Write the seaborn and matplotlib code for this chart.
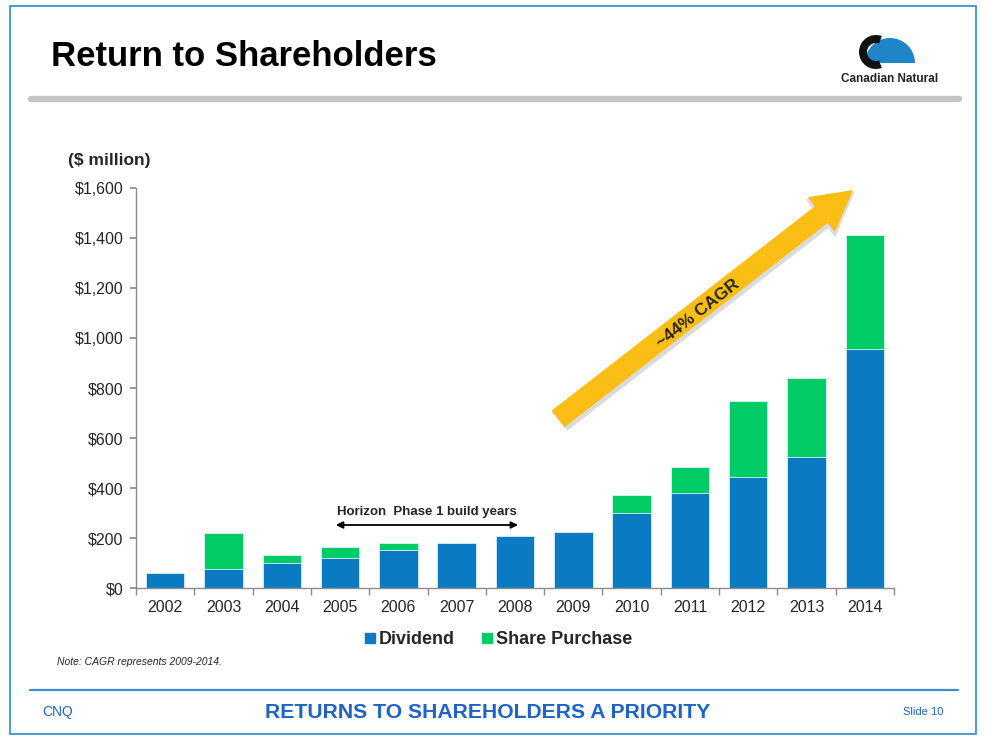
import numpy as np
import pandas as pd
import matplotlib
matplotlib.use('Agg')
import matplotlib.pyplot as plt
import seaborn as sns
from matplotlib.patches import Rectangle, FancyArrow, Wedge
from matplotlib.lines import Line2D

# values ($ million)
years = ['2002', '2003', '2004', '2005', '2006', '2007', '2008',
         '2009', '2010', '2011', '2012', '2013', '2014']
dividend = [60, 76, 102, 122, 154, 180, 208, 224, 301, 379, 445, 523, 956]
share_purchase = [0, 146, 32, 44, 28, 0, 0, 0, 70, 104, 304, 318, 455]
yticks = [0, 200, 400, 600, 800, 1000, 1200, 1400, 1600]

blue = '#0A7BC2'
green = '#00CC66'
footer_blue = '#1C64C8'

df = pd.DataFrame({'year': years, 'dividend': dividend, 'share': share_purchase})
df['total'] = df['dividend'] + df['share']

sns.set_theme(style='white')
plt.rcParams['font.family'] = ['Liberation Sans', 'DejaVu Sans']

fig = plt.figure(figsize=(9.87, 7.4), dpi=100)
ax = fig.add_axes([136 / 987, 1 - 588 / 740, (894 - 136) / 987, 400 / 740])

sns.barplot(data=df, x='year', y='total', color=green, width=0.66,
            saturation=1, edgecolor='#DDEFFA', linewidth=0.6, ax=ax)
sns.barplot(data=df, x='year', y='dividend', color=blue, width=0.66,
            saturation=1, edgecolor='#DDEFFA', linewidth=0.6, ax=ax)

ax.set_xlim(-0.5, 12.5)
ax.set_ylim(0, 1600)
ax.set_yticks(yticks)
ax.set_yticklabels(['${:,}'.format(v) for v in yticks], fontsize=11.5)
ax.set_xlabel('')
ax.set_ylabel('')
for s in ['top', 'right']:
    ax.spines[s].set_visible(False)
for s in ['left', 'bottom']:
    ax.spines[s].set_color('#8C8C8C')
    ax.spines[s].set_linewidth(1.0)
ax.set_xticks(np.arange(13))
ax.set_xticklabels(years, fontsize=11.5)
ax.set_xticks(np.arange(-0.5, 13, 1), minor=True)
ax.tick_params(axis='x', which='major', length=0, pad=9)
ax.tick_params(axis='x', which='minor', length=5, color='#8C8C8C', direction='out', bottom=True)
ax.tick_params(axis='y', length=4, color='#8C8C8C', direction='out', left=True, pad=5)

# Horizon build-years annotation
ax.annotate('', xy=(2.88, 252), xytext=(6.1, 252),
            arrowprops=dict(arrowstyle='<|-|>', color='black', lw=1.3,
                            mutation_scale=10))
ax.text(4.49, 302, 'Horizon  Phase 1 build years', ha='center', va='center',
        fontsize=9.5, fontweight='bold')

# CAGR arrow (drawn in inches so it keeps its shape)
tr = fig.dpi_scale_trans
x0, y0, x1, y1 = 5.58, 3.21, 8.53, 5.50
shadow = FancyArrow(x0 + 0.015, y0 - 0.02, x1 - x0, y1 - y0, width=0.25,
                    head_width=0.48, head_length=0.43, length_includes_head=True,
                    transform=tr, color='#9A9A9A', alpha=0.35, lw=0)
arrow = FancyArrow(x0, y0, x1 - x0, y1 - y0, width=0.21, head_width=0.44,
                   head_length=0.40, length_includes_head=True,
                   transform=tr, color='#FBBE14', lw=0)
fig.add_artist(shadow)
fig.add_artist(arrow)
fig.text(698 / 987, 1 - 313 / 740, '~44% CAGR', rotation=38, ha='center', va='center',
         rotation_mode='anchor', fontsize=12.5, fontweight='bold')

# axis unit label
fig.text(68 / 987, 1 - 160 / 740, '($ million)', ha='left', va='center',
         fontsize=12.5, fontweight='bold')

# legend
handles = [Line2D([], [], marker='s', linestyle='', color=blue, markersize=7.5),
           Line2D([], [], marker='s', linestyle='', color=green, markersize=7.5)]
fig.legend(handles, ['Dividend', 'Share Purchase'], loc='center',
           bbox_to_anchor=(497 / 987, 1 - 640 / 740), ncol=2, frameon=False,
           prop={'size': 13, 'weight': 'bold'}, handletextpad=0.05,
           columnspacing=1.3, handlelength=0.9)

fig.text(57 / 987, 1 - 662 / 740, 'Note: CAGR represents 2009-2014.',
         ha='left', va='center', fontsize=7.5, style='italic')

# slide decorations
fig.add_artist(Rectangle((10 / 987, 6 / 740), 966 / 987, 728 / 740, transform=fig.transFigure,
                         fill=False, edgecolor='#2A8AD0', lw=1.2))
fig.add_artist(Line2D([31 / 987, 959 / 987], [1 - 99 / 740] * 2, transform=fig.transFigure,
                      color='#C4C4C4', lw=4.5, solid_capstyle='round'))
fig.add_artist(Line2D([30 / 987, 958 / 987], [1 - 690 / 740] * 2, transform=fig.transFigure,
                      color='#3A8FD0', lw=1.6))
fig.text(51 / 987, 1 - 56 / 740, 'Return to Shareholders', ha='left', va='center',
         fontsize=25, fontweight='bold', color='black')

# logo
fig.add_artist(Wedge((8.90, (740 - 63) / 100), 0.25, 0, 180, transform=tr,
                     color='#1E86C8', lw=0))
fig.add_artist(Wedge((8.76, (740 - 52) / 100), 0.17, 70, 290, width=0.08,
                     transform=tr, color='#111111', lw=0))
fig.text(890 / 987, 1 - 79 / 740, 'Canadian Natural', ha='center', va='center',
         fontsize=8.5, fontweight='bold', color='#222222')

# footer
fig.text(42 / 987, 1 - 712 / 740, 'CNQ', ha='left', va='center', fontsize=10,
         color=footer_blue)
fig.text(488 / 987, 1 - 712 / 740, 'RETURNS TO SHAREHOLDERS A PRIORITY', ha='center',
         va='center', fontsize=15.2, fontweight='bold', color=footer_blue)
fig.text(943 / 987, 1 - 712 / 740, 'Slide 10', ha='right', va='center', fontsize=8,
         color=footer_blue)

fig.savefig('out.png', dpi=100)
